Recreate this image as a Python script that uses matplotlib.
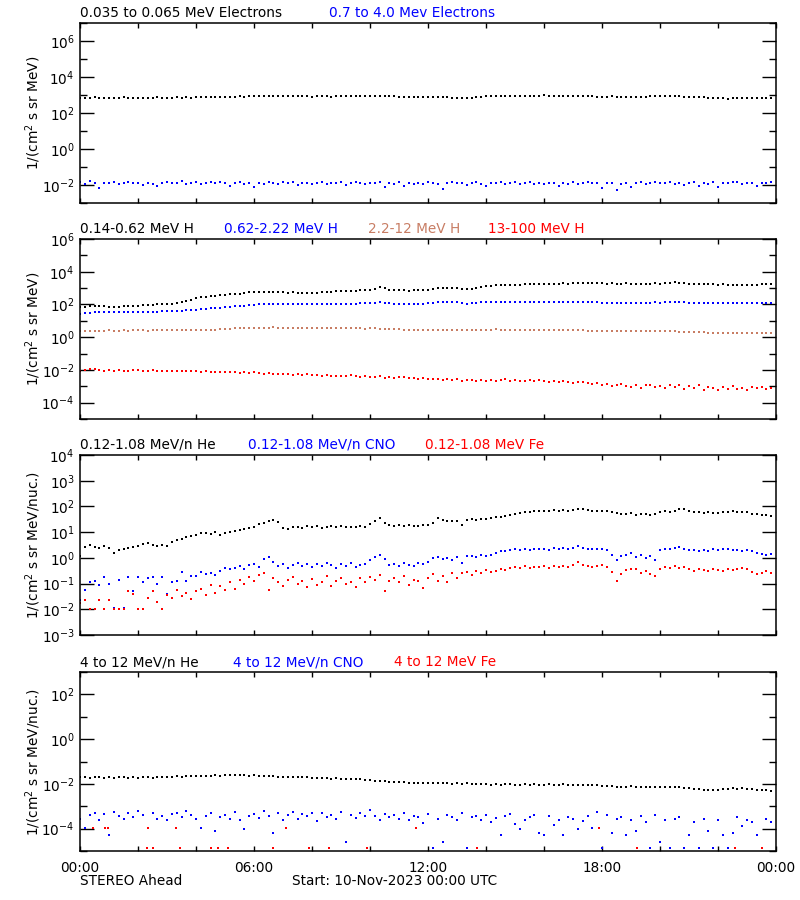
import numpy as np
import matplotlib
matplotlib.use('Agg')
import matplotlib.pyplot as plt
from matplotlib.ticker import FixedLocator, NullFormatter, LogFormatterMathtext, MultipleLocator, FuncFormatter

nan = np.nan

# log10 of flux, 10 minute samples starting 10-Nov-2023 00:00 UTC
# panel 1: electrons
e_lo = [2.86, 2.85, 2.86, 2.87, 2.85, 2.86, 2.84, 2.86, 2.85, 2.87, 2.86, 2.85,
        2.86, 2.84, 2.85, 2.86, 2.87, 2.86, 2.85, 2.86, 2.87, 2.86, 2.87, 2.86,
        2.88, 2.87, 2.88, 2.89, 2.90, 2.89, 2.90, 2.91, 2.90, 2.92, 2.91, 2.93,
        2.94, 2.95, 2.94, 2.96, 2.95, 2.94, 2.93, 2.92, 2.93, 2.92, 2.93, 2.92,
        2.91, 2.92, 2.93, 2.92, 2.91, 2.92, 2.94, 2.93, 2.92, 2.93, 2.94, 2.95,
        2.96, 2.95, 2.97, 2.95, 2.94, 2.93, 2.90, 2.89, 2.88, 2.89, 2.88, 2.87,
        2.88, 2.89, 2.88, 2.87, 2.88, 2.86, 2.84, 2.83, 2.82, 2.83, 2.87, 2.90,
        2.93, 2.95, 2.96, 2.97, 2.96, 2.95, 2.96, 2.97, 2.96, 2.95, 2.96, 2.97,
        2.98, 2.96, 2.95, 2.96, 2.97, 2.95, 2.96, 2.94, 2.95, 2.93, 2.92, 2.91,
        2.90, 2.91, 2.92, 2.91, 2.90, 2.91, 2.90, 2.89, 2.90, 2.91, 2.92, 2.93,
        2.94, 2.96, 2.95, 2.93, 2.92, 2.90, 2.89, 2.88, 2.88, 2.87, 2.86, 2.84,
        2.82, 2.81, 2.80, 2.81, 2.82, 2.81, 2.82, 2.83, 2.82, 2.84, 2.83, 2.85]
e_hi = [-1.85, -1.92, -1.80, -1.88, -2.15, -1.90, -1.86, -1.84, -1.95, -1.87, -1.83, -1.90,
        -1.86, -2.02, -1.89, -1.95, -2.08, -1.88, -1.84, -1.91, -1.86, -1.79, -1.93, -1.88,
        -1.85, -1.97, -1.90, -1.84, -1.89, -1.82, -1.91, -2.05, -1.87, -1.83, -1.95, -1.90,
        -2.10, -1.86, -1.92, -1.81, -1.88, -1.96, -1.85, -1.90, -1.84, -2.00, -1.89, -1.87,
        -1.93, -1.86, -1.82, -1.95, -1.88, -1.91, -1.85, -1.98, -1.87, -1.83, -1.90, -1.94,
        -1.86, -1.89, -1.85, -2.12, -1.91, -1.95, -1.84, -2.06, -1.88, -1.92, -1.86, -1.96,
        -1.83, -1.90, -1.94, -2.20, -1.87, -1.85, -1.91, -1.86, -1.99, -1.88, -1.84, -1.93,
        -2.03, -1.86, -1.90, -1.84, -1.96, -1.89, -1.85, -1.94, -1.88, -1.82, -1.92, -1.87,
        -1.95, -1.86, -1.90, -2.08, -1.87, -1.93, -1.85, -1.96, -1.89, -1.84, -1.91, -1.88,
        -2.15, -1.90, -1.87, -2.25, -1.94, -1.86, -2.10, -1.88, -1.83, -1.92, -1.86, -1.81,
        -1.90, -1.87, -1.83, -1.93, -1.86, -1.98, -1.89, -1.84, -2.04, -1.88, -1.92, -1.85,
        -2.12, -1.87, -1.90, -1.84, -1.82, -1.95, -1.88, -1.91, -2.08, -1.86, -1.89, -1.84]

# panel 2: protons
h_1 = [1.82, 1.86, 1.88, 1.90, 1.91, 1.89, 1.87, 1.85, 1.86, 1.88, 1.90, 1.91,
       1.93, 1.94, 1.96, 1.98, 2.00, 2.02, 2.03, 2.04, 2.08, 2.14, 2.20, 2.28,
       2.38, 2.44, 2.48, 2.50, 2.52, 2.55, 2.58, 2.62, 2.64, 2.66, 2.70, 2.74,
       2.77, 2.78, 2.77, 2.75, 2.74, 2.75, 2.74, 2.73, 2.74, 2.72, 2.71, 2.72,
       2.73, 2.72, 2.74, 2.76, 2.78, 2.80, 2.81, 2.82, 2.80, 2.83, 2.86, 2.88,
       2.90, 2.96, 3.04, 2.98, 2.90, 2.88, 2.87, 2.86, 2.85, 2.86, 2.87, 2.86,
       2.88, 2.95, 3.00, 3.01, 3.02, 3.00, 3.01, 2.97, 2.92, 2.94, 3.02, 3.08,
       3.10, 3.14, 3.18, 3.20, 3.21, 3.20, 3.22, 3.21, 3.23, 3.24, 3.25, 3.26,
       3.27, 3.26, 3.28, 3.27, 3.29, 3.28, 3.29, 3.30, 3.31, 3.29, 3.30, 3.29,
       3.29, 3.28, 3.29, 3.27, 3.28, 3.29, 3.28, 3.26, 3.24, 3.26, 3.28, 3.29,
       3.28, 3.30, 3.32, 3.36, 3.34, 3.30, 3.26, 3.25, 3.24, 3.25, 3.23, 3.24,
       3.22, 3.23, 3.21, 3.18, 3.17, 3.19, 3.21, 3.20, 3.22, 3.23, 3.25, 3.24]
h_2 = [1.42, 1.46, 1.50, 1.52, 1.53, 1.52, 1.53, 1.54, 1.52, 1.53, 1.55, 1.54,
       1.54, 1.55, 1.56, 1.55, 1.57, 1.58, 1.59, 1.60, 1.61, 1.63, 1.64, 1.66,
       1.67, 1.70, 1.74, 1.76, 1.79, 1.81, 1.84, 1.86, 1.88, 1.90, 1.92, 1.94,
       1.97, 2.00, 2.02, 2.03, 2.04, 2.03, 2.04, 2.03, 2.02, 2.04, 2.03, 2.04,
       2.05, 2.04, 2.03, 2.04, 2.05, 2.04, 2.05, 2.06, 2.05, 2.06, 2.07, 2.08,
       2.08, 2.10, 2.14, 2.11, 2.07, 2.05, 2.04, 2.05, 2.04, 2.03, 2.04, 2.05,
       2.08, 2.12, 2.14, 2.15, 2.14, 2.13, 2.14, 2.10, 2.05, 2.07, 2.12, 2.15,
       2.16, 2.17, 2.16, 2.17, 2.16, 2.17, 2.17, 2.16, 2.18, 2.17, 2.16, 2.17,
       2.18, 2.17, 2.16, 2.17, 2.18, 2.17, 2.16, 2.17, 2.18, 2.17, 2.16, 2.15,
       2.12, 2.09, 2.08, 2.09, 2.10, 2.11, 2.12, 2.11, 2.10, 2.11, 2.12, 2.13,
       2.12, 2.14, 2.17, 2.18, 2.16, 2.13, 2.12, 2.11, 2.10, 2.11, 2.10, 2.11,
       2.10, 2.09, 2.10, 2.08, 2.07, 2.08, 2.09, 2.10, 2.09, 2.10, 2.11, 2.10]
h_3 = [0.36, 0.38, 0.40, 0.41, 0.40, 0.41, 0.42, 0.41, 0.40, 0.42, 0.41, 0.42,
       0.43, 0.42, 0.41, 0.42, 0.43, 0.42, 0.43, 0.44, 0.43, 0.42, 0.43, 0.44,
       0.44, 0.45, 0.44, 0.46, 0.47, 0.48, 0.50, 0.52, 0.54, 0.55, 0.56, 0.57,
       0.58, 0.59, 0.58, 0.59, 0.60, 0.59, 0.58, 0.59, 0.58, 0.59, 0.58, 0.57,
       0.58, 0.59, 0.58, 0.57, 0.58, 0.57, 0.56, 0.55, 0.54, 0.55, 0.54, 0.53,
       0.54, 0.55, 0.53, 0.52, 0.50, 0.49, 0.48, 0.47, 0.46, 0.47, 0.46, 0.45,
       0.46, 0.47, 0.46, 0.45, 0.46, 0.47, 0.46, 0.45, 0.44, 0.45, 0.46, 0.47,
       0.46, 0.47, 0.48, 0.47, 0.46, 0.47, 0.46, 0.45, 0.46, 0.47, 0.46, 0.45,
       0.46, 0.45, 0.44, 0.45, 0.44, 0.45, 0.44, 0.43, 0.42, 0.41, 0.40, 0.39,
       0.38, 0.39, 0.38, 0.37, 0.38, 0.37, 0.38, 0.37, 0.36, 0.37, 0.36, 0.37,
       0.36, 0.35, 0.36, 0.35, 0.34, 0.33, 0.32, 0.31, 0.30, 0.29, 0.28, 0.27,
       0.26, 0.25, 0.26, 0.25, 0.24, 0.25, 0.24, 0.25, 0.24, 0.25, 0.26, 0.27]
h_4 = [-2.06, -2.00, -1.92, -1.95, -2.02, -2.04, -2.03, -2.05, -2.02, -2.04, -2.06, -2.03,
       -2.00, -2.04, -2.05, -2.03, -2.06, -2.04, -2.05, -2.07, -2.04, -2.06, -2.08, -2.05,
       -2.09, -2.11, -2.08, -2.12, -2.14, -2.11, -2.13, -2.15, -2.12, -2.16, -2.14, -2.18,
       -2.15, -2.20, -2.24, -2.21, -2.26, -2.22, -2.25, -2.23, -2.28, -2.24, -2.30, -2.27,
       -2.32, -2.29, -2.35, -2.31, -2.37, -2.34, -2.40, -2.36, -2.33, -2.39, -2.42, -2.38,
       -2.41, -2.45, -2.40, -2.47, -2.43, -2.50, -2.46, -2.44, -2.52, -2.48, -2.55, -2.50,
       -2.53, -2.58, -2.55, -2.60, -2.56, -2.62, -2.58, -2.66, -2.61, -2.64, -2.70, -2.62,
       -2.65, -2.60, -2.68, -2.63, -2.58, -2.66, -2.62, -2.70, -2.65, -2.61, -2.68, -2.64,
       -2.69, -2.72, -2.67, -2.75, -2.70, -2.73, -2.78, -2.71, -2.76, -2.82, -2.88, -2.80,
       -2.93, -2.86, -2.98, -2.90, -2.85, -2.96, -3.02, -2.92, -3.08, -2.95, -2.90, -3.04,
       -2.98, -3.12, -2.94, -3.05, -2.92, -3.15, -3.00, -3.08, -2.95, -3.20, -3.03, -3.10,
       -3.22, -3.06, -3.14, -2.98, -3.18, -3.08, -3.25, -3.04, -3.12, -3.02, -3.16, -3.08]

# panel 3: 0.12-1.08 MeV/n heavy ions
he_lo = [0.08, 0.44, 0.50, 0.42, 0.38, 0.45, 0.40, 0.18, 0.30, 0.36, 0.40, 0.42,
         0.48, 0.55, 0.58, 0.52, 0.48, 0.50, 0.46, 0.62, 0.70, 0.72, 0.80, 0.85,
         0.88, 0.95, 0.98, 0.94, 1.00, 0.88, 0.98, 1.02, 1.04, 1.08, 1.12, 1.16,
         1.22, 1.30, 1.37, 1.45, 1.48, 1.38, 1.18, 1.12, 1.20, 1.22, 1.18, 1.24,
         1.20, 1.23, 1.17, 1.22, 1.25, 1.21, 1.24, 1.20, 1.22, 1.19, 1.23, 1.21,
         1.30, 1.45, 1.56, 1.35, 1.26, 1.24, 1.26, 1.23, 1.27, 1.25, 1.24, 1.26,
         1.28, 1.36, 1.54, 1.46, 1.43, 1.45, 1.44, 1.28, 1.46, 1.50, 1.48, 1.52,
         1.50, 1.56, 1.60, 1.58, 1.62, 1.66, 1.72, 1.76, 1.78, 1.80, 1.82, 1.81,
         1.84, 1.82, 1.85, 1.83, 1.86, 1.84, 1.87, 1.89, 1.92, 1.88, 1.84, 1.82,
         1.84, 1.83, 1.78, 1.73, 1.70, 1.72, 1.74, 1.68, 1.72, 1.70, 1.66, 1.70,
         1.78, 1.81, 1.80, 1.84, 1.90, 1.92, 1.84, 1.80, 1.78, 1.76, 1.77, 1.75,
         1.76, 1.78, 1.80, 1.82, 1.79, 1.80, 1.78, 1.72, 1.70, 1.66, 1.68, 1.64]
cno_lo = [-1.63, -1.25, -0.92, -0.90, -1.05, -0.73, -1.00, -1.95, -0.85, -1.95, -0.73, -1.30,
          -0.75, -0.95, -0.80, -0.73, -1.00, -0.73, -1.40, -0.95, -0.88, -0.55, -0.90, -0.70,
          -0.72, -0.55, -0.62, -0.58, -0.68, -0.50, -0.40, -0.45, -0.38, -0.30, -0.42, -0.28,
          -0.25, -0.35, -0.05, 0.02, -0.15, -0.30, -0.22, -0.38, -0.28, -0.20, -0.32, -0.25,
          -0.35, -0.22, -0.30, -0.18, -0.28, -0.40, -0.25, -0.32, -0.20, -0.35, -0.27, -0.22,
          -0.10, 0.03, 0.10, -0.05, -0.28, -0.22, -0.30, -0.20, -0.26, -0.32, -0.18, -0.24,
          -0.15, -0.02, 0.02, -0.05, 0.00, -0.08, 0.02, -0.20, 0.06, 0.08, 0.04, 0.10,
          0.06, 0.12, 0.18, 0.25, 0.28, 0.30, 0.33, 0.30, 0.34, 0.31, 0.35, 0.33,
          0.36, 0.32, 0.38, 0.34, 0.37, 0.35, 0.40, 0.45, 0.38, 0.34, 0.36, 0.33,
          0.35, 0.30, 0.10, -0.08, 0.08, 0.12, 0.18, 0.05, 0.10, -0.02, 0.06, -0.10,
          0.30, 0.36, 0.34, 0.38, 0.42, 0.36, 0.30, 0.32, 0.26, 0.30, 0.28, 0.33,
          0.30, 0.34, 0.36, 0.32, 0.30, 0.28, 0.32, 0.25, 0.18, 0.15, 0.10, 0.16]
fe_lo = [-1.75, -1.65, -1.98, -1.98, -1.65, -1.98, -1.65, -1.98, -1.98, -1.98, -1.30, -1.42,
         -1.98, -1.98, -1.55, -1.30, -1.70, -1.98, -1.45, -1.55, -1.25, -1.50, -1.35, -1.60,
         -1.30, -1.20, -1.45, -1.05, -1.35, -1.10, -1.25, -0.95, -1.20, -0.85, -1.00, -0.75,
         -0.90, -0.68, -0.60, -1.25, -0.80, -0.95, -1.10, -0.85, -0.75, -1.00, -0.90, -1.15,
         -0.82, -1.05, -0.95, -0.70, -1.10, -0.88, -0.78, -1.00, -0.92, -1.12, -0.80, -0.95,
         -0.75, -0.85, -0.68, -1.28, -0.90, -0.80, -0.95, -0.72, -1.05, -0.85, -0.90, -1.18,
         -0.78, -0.62, -0.88, -0.70, -0.95, -0.58, -0.80, -0.60, -0.55, -0.65, -0.52, -0.58,
         -0.48, -0.55, -0.50, -0.42, -0.46, -0.38, -0.35, -0.40, -0.32, -0.38, -0.34, -0.36,
         -0.30, -0.38, -0.33, -0.36, -0.31, -0.35, -0.28, -0.17, -0.26, -0.32, -0.36, -0.30,
         -0.28, -0.35, -0.55, -0.90, -0.62, -0.48, -0.42, -0.45, -0.58, -0.50, -0.62, -0.70,
         -0.42, -0.35, -0.38, -0.33, -0.40, -0.36, -0.45, -0.50, -0.42, -0.48, -0.52, -0.44,
         -0.46, -0.50, -0.42, -0.48, -0.45, -0.40, -0.42, -0.55, -0.62, -0.58, -0.52, -0.60]

# panel 4: 4-12 MeV/n heavy ions
he_hi = [-1.69, -1.70, -1.72, -1.71, -1.70, -1.72, -1.71, -1.73, -1.71, -1.70, -1.72, -1.71,
         -1.73, -1.71, -1.70, -1.72, -1.71, -1.69, -1.70, -1.68, -1.66, -1.67, -1.65, -1.66,
         -1.64, -1.65, -1.63, -1.64, -1.62, -1.63, -1.61, -1.62, -1.60, -1.62, -1.61, -1.63,
         -1.62, -1.63, -1.65, -1.64, -1.66, -1.67, -1.68, -1.67, -1.69, -1.70, -1.68, -1.71,
         -1.72, -1.74, -1.73, -1.75, -1.76, -1.74, -1.77, -1.78, -1.76, -1.79, -1.80, -1.82,
         -1.84, -1.86, -1.88, -1.87, -1.90, -1.91, -1.93, -1.92, -1.95, -1.94, -1.96, -1.95,
         -1.97, -1.95, -1.96, -1.98, -1.96, -1.99, -1.97, -2.00, -1.98, -2.01, -2.00, -2.02,
         -2.00, -2.03, -2.01, -2.04, -2.02, -2.00, -2.03, -2.05, -2.02, -2.04, -2.01, -2.03,
         -2.04, -2.02, -2.05, -2.03, -2.01, -2.04, -2.06, -2.03, -2.05, -2.04, -2.07, -2.06,
         -2.09, -2.11, -2.10, -2.13, -2.12, -2.14, -2.11, -2.13, -2.15, -2.12, -2.14, -2.13,
         -2.12, -2.15, -2.13, -2.16, -2.14, -2.17, -2.19, -2.21, -2.23, -2.26, -2.25, -2.27,
         -2.26, -2.24, -2.22, -2.20, -2.21, -2.19, -2.22, -2.24, -2.27, -2.29, -2.28, -2.30]
cno_hi = [-3.55, -3.96, -3.40, -3.30, -3.62, -3.35, -4.30, -3.25, -3.45, -3.58, -3.30, -3.50,
          -3.20, -3.40, -3.96, -3.30, -3.55, -3.45, -3.62, -3.35, -3.30, -3.50, -3.22, -3.40,
          -3.58, -3.96, -3.42, -3.30, -4.10, -3.48, -3.38, -3.55, -3.25, -3.62, -4.00, -3.45,
          -3.35, -3.52, -3.20, -3.45, -4.20, -3.30, -3.60, -3.40, -3.25, -3.55, -3.35, -3.45,
          -3.32, -3.65, -3.28, -3.48, -3.40, -3.58, -3.25, -4.58, -3.38, -3.52, -3.30, -3.45,
          -3.15, -3.42, -3.60, -3.35, -3.50, -3.38, -3.55, -3.30, -3.62, -3.45, -3.48, -3.75,
          -3.35, -4.86, -3.55, -4.58, -3.38, -3.48, -3.60, -3.32, -4.86, -3.50, -3.45, -3.62,
          -3.40, -3.70, -3.52, -4.30, -3.45, -3.35, -3.80, -4.00, -3.60, -3.50, -3.40, -4.20,
          -4.30, -3.45, -3.85, -3.60, -4.30, -3.50, -3.55, -4.00, -3.65, -3.45, -3.95, -3.25,
          -4.86, -3.40, -4.20, -3.55, -3.50, -4.30, -3.60, -4.10, -3.45, -3.72, -4.86, -3.40,
          -4.58, -3.62, -4.86, -3.55, -3.48, -4.86, -4.30, -3.70, -4.86, -3.55, -4.10, -4.86,
          -3.60, -4.30, -4.86, -4.20, -3.50, -3.90, -3.60, -3.72, -4.30, -4.86, -3.55, -3.70]
# Fe 4-12 MeV only has a few non-zero samples (hours, log10 flux)
fe_hi_t = [0.45, 0.85, 0.95, 2.3, 2.35, 2.5, 3.3, 3.45, 4.5, 4.75, 5.1, 6.65, 7.1,
           7.9, 8.6, 9.9, 11.6, 13.7, 17.9, 19.2, 22.6, 23.5]
fe_hi = [-3.96, -3.96, -3.96, -4.86, -3.96, -4.86, -3.96, -4.86, -4.86, -4.86, -4.86, -4.86, -3.96,
         -4.86, -4.86, -4.86, -3.96, -4.86, -3.96, -4.86, -4.86, -4.86]

BROWN = '#c87d64'
FS = 9.8

panels = [
    {'rect': (0.1, 0.7744, 0.87, 0.2), 'ylim': (-3, 7),
     'major': [-2, 0, 2, 4, 6], 'minor': [-3, -1, 1, 3, 5, 7],
     'ylabel': '1/(cm$^2$ s sr MeV)',
     'series': [(None, e_lo, 'k'), (None, e_hi, 'b')],
     'titles': [(80, '0.035 to 0.065 MeV Electrons', 'k'), (329, '0.7 to 4.0 Mev Electrons', 'b')],
     'ty': 13},
    {'rect': (0.1, 0.5344, 0.87, 0.2), 'ylim': (-5, 6),
     'major': [-4, -2, 0, 2, 4, 6], 'minor': [-5, -3, -1, 1, 3, 5],
     'ylabel': '1/(cm$^2$ s sr MeV)',
     'series': [(None, h_1, 'k'), (None, h_2, 'b'), (None, h_3, BROWN), (None, h_4, 'r')],
     'titles': [(80, '0.14-0.62 MeV H', 'k'), (224, '0.62-2.22 MeV H', 'b'),
                (368, '2.2-12 MeV H', BROWN), (488, '13-100 MeV H', 'r')],
     'ty': 229},
    {'rect': (0.1, 0.2944, 0.87, 0.2), 'ylim': (-3, 4),
     'major': [-3, -2, -1, 0, 1, 2, 3, 4], 'minor': [],
     'ylabel': '1/(cm$^2$ s sr MeV/nuc.)',
     'series': [(None, he_lo, 'k'), (None, cno_lo, 'b'), (None, fe_lo, 'r')],
     'titles': [(80, '0.12-1.08 MeV/n He', 'k'), (248, '0.12-1.08 MeV/n CNO', 'b'),
                (425, '0.12-1.08 MeV Fe', 'r')],
     'ty': 445},
    {'rect': (0.1, 0.0544, 0.87, 0.1989), 'ylim': (-5, 3),
     'major': [-4, -2, 0, 2], 'minor': [-5, -3, -1, 1, 3],
     'ylabel': '1/(cm$^2$ s sr MeV/nuc.)',
     'series': [(None, he_hi, 'k'), (None, cno_hi, 'b'), (fe_hi_t, fe_hi, 'r')],
     'titles': [(80, '4 to 12 MeV/n He', 'k'), (233, '4 to 12 MeV/n CNO', 'b'),
                (394, '4 to 12 MeV Fe', 'r')],
     'ty': 662},
]

fig = plt.figure(figsize=(8, 9), dpi=100)
W, H = 800.0, 900.0

for n, p in enumerate(panels):
    ax = fig.add_axes(p['rect'])
    for t, v, c in p['series']:
        v = np.array(v, dtype=float)
        if t is None:
            t = np.arange(len(v)) * 24.0 / len(v)
        ax.plot(t, 10.0 ** v, ls='none', marker='s', ms=1.9, mew=0, color=c)
    ax.set_yscale('log')
    ax.set_ylim(10.0 ** p['ylim'][0], 10.0 ** p['ylim'][1])
    ax.yaxis.set_major_locator(FixedLocator([10.0 ** k for k in p['major']]))
    ax.yaxis.set_minor_locator(FixedLocator([10.0 ** k for k in p['minor']]))
    ax.yaxis.set_major_formatter(LogFormatterMathtext())
    ax.yaxis.set_minor_formatter(NullFormatter())
    ax.set_xlim(0, 24)
    ax.xaxis.set_major_locator(MultipleLocator(6))
    ax.xaxis.set_minor_locator(MultipleLocator(2))
    ax.xaxis.set_major_formatter(FuncFormatter(lambda h, pos: '%02d:00' % (int(round(h)) % 24)))
    ax.tick_params(axis='y', which='major', direction='in', length=10, width=1,
                   left=True, right=True, labelsize=FS, pad=4)
    ax.tick_params(axis='y', which='minor', direction='in', length=5, width=1,
                   left=True, right=True)
    ax.tick_params(axis='x', which='both', direction='in', length=3.6, width=1,
                   top=True, bottom=True, labelsize=FS, pad=7)
    if n < 3:
        ax.tick_params(axis='x', labelbottom=False)
    for s in ax.spines.values():
        s.set_linewidth(1.1)
    # y axis label
    x0, y0, w, h = p['rect']
    fig.text(33 / W, y0 + h / 2, p['ylabel'], rotation=90, ha='center', va='center', fontsize=FS)
    # coloured channel titles
    for x, txt, c in p['titles']:
        fig.text(x / W, 1 - p['ty'] / H, txt, color=c, ha='left', va='center', fontsize=FS)

fig.text(80 / W, 1 - 881 / H, 'STEREO Ahead', ha='left', va='center', fontsize=FS)
fig.text(292 / W, 1 - 881 / H, 'Start: 10-Nov-2023 00:00 UTC', ha='left', va='center', fontsize=FS)

fig.savefig('out.png', dpi=100)
